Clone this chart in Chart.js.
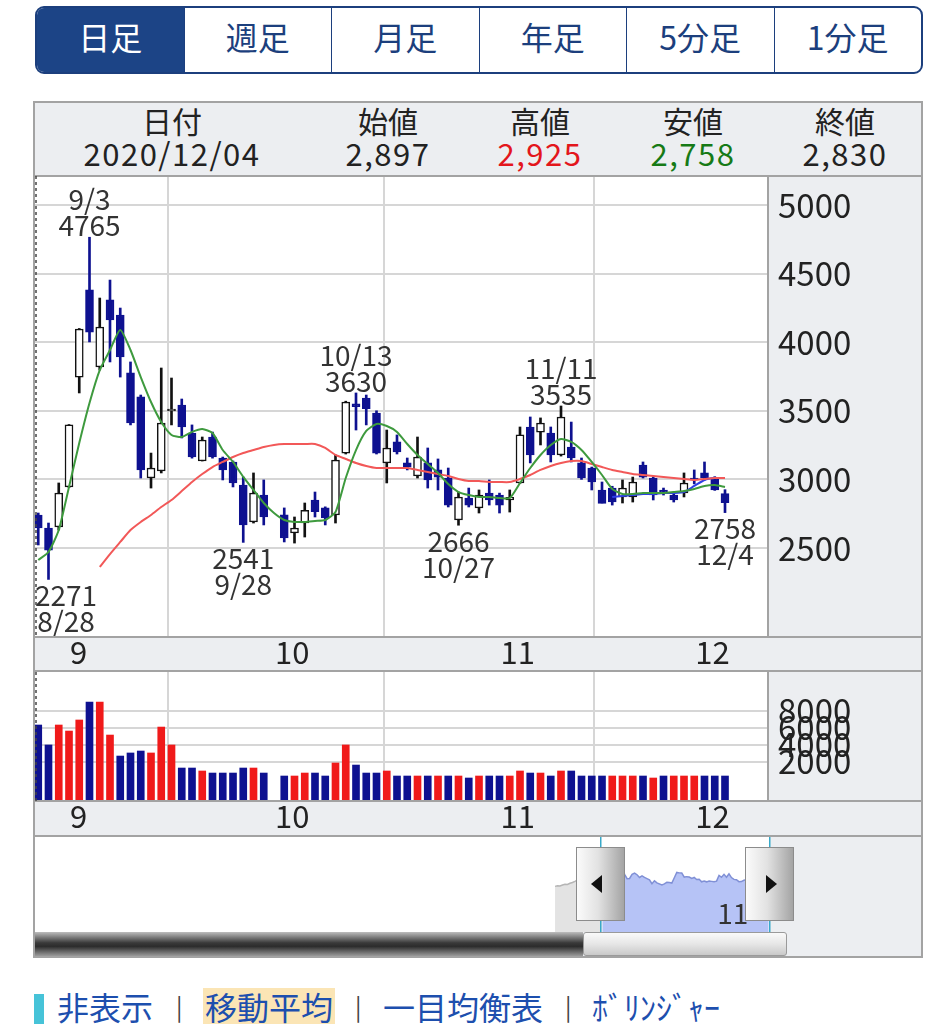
<!DOCTYPE html>
<html>
<head>
<meta charset="utf-8" />
<title>日足チャート</title>
<script src="https://cdn.jsdelivr.net/npm/chart.js"></script>
<style>
  body { margin: 0; background: #fff; font-family: "Noto Sans CJK JP", "Noto Sans", sans-serif; color: #222; }
  #page { position: relative; width: 946px; height: 1024px; overflow: hidden; }
  .abs { position: absolute; }
  #tabs { left: 35px; top: 6px; width: 888px; height: 68px; box-sizing: border-box; border: 2px solid #1c3f7d; border-radius: 9px; display: flex; overflow: hidden; }
  #tabs div { flex: 1; display: flex; align-items: center; justify-content: center; font-size: 32px; color: #1c3f7d; border-left: 1.5px solid #1c3f7d; padding-bottom: 8px; }
  #tabs div.on { background: #1c4486; color: #fff; border-left: none; }
  #box { left: 33px; top: 101px; width: 890px; height: 857px; box-sizing: border-box; border: 2px solid #a3a3a3; background: #eceef1; }
  .hc { position: absolute; width: 240px; text-align: center; font-size: 30px; line-height: 32px; }
  .hc.num { font-size: 31px; letter-spacing: 1.5px; }
  canvas { position: absolute; }
  .handle { position: absolute; top: 847px; width: 47px; height: 72px; border: 1.5px solid #8c8c8c; background: linear-gradient(to right, #fbfbfb, #e2e2e2 45%, #a4a4a4); }
  .tri { position: absolute; top: 27px; width: 0; height: 0; border-top: 9px solid transparent; border-bottom: 9px solid transparent; }
  #links { left: 0; top: 988px; height: 36px; font-size: 32px; line-height: 36px; color: #1d4fae; }
  #links span { position: absolute; top: 0; white-space: nowrap; }
  #links .sep { color: #444; font-size: 24px; }
</style>
</head>
<body>
<div id="page">
  <div id="tabs" class="abs">
    <div class="on">日足</div><div>週足</div><div>月足</div><div>年足</div><div>5分足</div><div>1分足</div>
  </div>

  <div id="box" class="abs"></div>
  <div class="hc" style="left:52px;top:104px">日付</div>
  <div class="hc num" style="left:52px;top:137px">2020/12/04</div>
  <div class="hc" style="left:268px;top:104px">始値</div>
  <div class="hc num" style="left:268px;top:137px">2,897</div>
  <div class="hc" style="left:420px;top:104px">高値</div>
  <div class="hc num" style="left:420px;top:137px;color:#e3161c">2,925</div>
  <div class="hc" style="left:573px;top:104px">安値</div>
  <div class="hc num" style="left:573px;top:137px;color:#167a16">2,758</div>
  <div class="hc" style="left:725px;top:104px">終値</div>
  <div class="hc num" style="left:725px;top:137px">2,830</div>

  <canvas id="price" width="886" height="495" style="left:35px;top:175px"></canvas>
  <canvas id="volume" width="886" height="165" style="left:35px;top:670px"></canvas>
  <canvas id="nav" width="886" height="97" style="left:35px;top:835px"></canvas>

  <div class="handle" id="hl"><div class="tri" style="left:14px;border-right:11px solid #111"></div></div>
  <div class="handle" id="hr"><div class="tri" style="left:20px;border-left:11px solid #111"></div></div>

  <div class="abs" style="left:35px;top:932px;width:548px;height:24px;background:linear-gradient(to bottom,#bdbdbd,#3a3a3a 45%,#2c2c2c 60%,#9a9a9a)"></div>
  <div class="abs" style="left:583px;top:932px;width:204px;height:24px;box-sizing:border-box;border:1.5px solid #9a9a9a;border-radius:3px;background:linear-gradient(to bottom,#fafafa,#e6e6e6 50%,#c9c9c9)"></div>

  <div class="abs" style="left:34px;top:994px;width:10px;height:30px;background:#46c3d8"></div>
  <div id="links" class="abs" style="width:946px">
    <span style="left:57px">非表示</span>
    <span class="sep" style="left:176px">|</span>
    <span style="left:203px;padding:0 2px;background:#fbe5b5">移動平均</span>
    <span class="sep" style="left:355px">|</span>
    <span style="left:383px">一目均衡表</span>
    <span class="sep" style="left:565px">|</span>
    <span style="left:592px">ﾎﾞﾘﾝｼﾞｬｰ</span>
  </div>
</div>

<script>
    const FONT = '"Noto Sans CJK JP", "Noto Sans", sans-serif';

    // trading days shown (10/1 had no trading)
    const dates = ['8/27','8/28','8/31',
        '9/1','9/2','9/3','9/4','9/7','9/8','9/9','9/10','9/11','9/14','9/15','9/16','9/17','9/18','9/23','9/24','9/25','9/28','9/29','9/30',
        '10/1','10/2','10/5','10/6','10/7','10/8','10/9','10/12','10/13','10/14','10/15','10/16','10/19','10/20','10/21','10/22','10/23','10/26','10/27','10/28','10/29','10/30',
        '11/2','11/4','11/5','11/6','11/9','11/10','11/11','11/12','11/13','11/16','11/17','11/18','11/19','11/20','11/24','11/25','11/26','11/27','11/30',
        '12/1','12/2','12/3','12/4'];

    const opens = [2740,2646,2653,2945,3746,4381,3819,4308,4198,3776,3601,3010,3061,3500,3542,3338,3134,3309,3156,3127,2959,2690,2886,
        null,2741,2609,2682,2850,2792,2741,3192,3550,3593,3484,3120,3273,3120,3025,3120,3069,3010,2704,2864,2792,2901,
        2886,2850,2974,3382,3345,3338,3178,3236,3120,3083,2923,2937,2872,2872,3105,3010,2923,2886,2901,3010,3047,3010,2897];
    const highs = [2755,2682,2974,3400,4100,4765,4322,4453,4249,3856,3615,3192,3812,3739,3586,3397,3309,3345,3163,3134,3017,3047,2996,
        null,2792,2726,2828,2908,2800,3178,3570,3630,3615,3500,3360,3324,3156,3309,3229,3149,3083,2908,2937,2923,2996,
        2900,2923,3382,3455,3448,3382,3535,3418,3156,3090,2981,2950,2996,3017,3127,3017,2937,2908,3047,3069,3127,3020,2925];
    const lows = [2522,2271,2631,2940,3630,4002,3797,3856,3746,3397,3010,2937,3047,3397,3302,3155,3134,3155,2996,2945,2541,2682,2668,
        null,2544,2536,2580,2726,2668,2682,3185,3360,3397,3185,2974,3185,3069,3010,2937,2923,2799,2666,2799,2755,2813,
        2755,2762,2970,3120,3251,3127,3170,3127,3000,2923,2828,2813,2828,2835,3010,2850,2886,2835,2872,2967,2996,2920,2758];
    const closes = [2646,2485,2901,3397,4096,4074,4111,4162,3892,3411,3069,3083,3411,3512,3382,3163,3287,3163,3069,2974,2668,2901,2726,
        null,2573,2646,2775,2765,2719,3141,3564,3530,3515,3192,3229,3200,3090,3163,2996,3017,2813,2872,2813,2886,2850,
        2813,2870,3324,3178,3411,3178,3455,3156,3010,2981,2825,2835,2937,2981,3017,2886,2901,2850,2974,2996,3010,2923,2830];

    // moving averages as drawn (green short, red mid, blue long)
    const maShort = [2413,2471,2631,2945,3265,3557,3797,3943,4089,3943,3746,3564,3418,3324,3309,3346,3367,3338,3214,3127,3018,2923,2828,
        2755,2704,2690,2690,2697,2704,2762,3010,3214,3353,3404,3389,3346,3258,3178,3112,3047,2966,2908,2886,2872,2872,
        2864,2864,2974,3083,3178,3251,3295,3273,3214,3127,3032,2930,2894,2894,2901,2901,2901,2908,2915,2930,2952,2959,2945];
    const maMid = [null,null,null,null,null,null,2362,2456,2544,2631,2690,2741,2799,2850,2915,2981,3039,3090,3127,3163,3192,3214,3236,
        3251,3258,3258,3258,3258,3229,3178,3149,3120,3098,3083,3083,3083,3083,3069,3054,3039,3025,3003,2988,2988,2981,
        2981,2981,3003,3032,3069,3098,3120,3134,3134,3112,3090,3069,3054,3039,3032,3025,3018,3010,3003,2996,3003,3010,3010];
    const maLong = [null,null,null,null,null,null,null,null,null,null,null,null,null,null,null,null,null,null,null,null,null,null,null,
        null,null,null,null,null,null,null,null,null,null,null,null,null,null,null,null,null,null,null,null,null,null,
        null,null,null,null,null,null,null,null,null,null,null,2872,2879,2886,2894,2894,2901,2901,2908,2952,2996,3010,3010];

    const volume = [6340,3990,6340,5630,6930,9040,9040,5160,2690,3050,3280,3050,6100,3990,1280,1280,930,690,690,690,1280,1280,690,
        null,340,340,690,690,340,1870,3990,1630,690,690,930,340,340,340,340,340,340,340,105,340,340,
        340,340,930,690,690,340,930,930,340,340,340,340,340,340,340,105,340,340,340,340,340,340,340];
    const volUp = [0,0,1,1,1,0,1,1,0,0,0,1,1,1,0,0,1,0,0,0,0,1,0,
        null,0,1,1,0,0,1,1,0,0,0,1,0,0,1,0,1,0,1,0,1,0,
        0,1,1,0,1,0,1,0,0,0,0,1,1,1,0,1,0,1,1,1,0,0,0];

    // closes before 8/27, only shown in the navigator
    const navEarly = [2450,2500,2480,2560,2620,2600,2700,2760,2850,2950,2900,2800,2750,2700,2650,2700,2750,2700,2720];

    const priceTicks = [2500, 3000, 3500, 4000, 4500, 5000];
    const volTicks = [2000, 4000, 6000, 8000];
    const highMarks = [5, 31, 51];
    const lowMarks = [1, 20, 41, 67];

    // first trading day of each month
    const monthIdx = [];
    dates.forEach((d, i) => { if (i === 0 || d.split('/')[0] !== dates[i - 1].split('/')[0]) monthIdx.push(i); });
    monthIdx.shift();
    const monthLabels = monthIdx.map(i => dates[i].split('/')[0]);

    const NAVY = '#0e1190';
    const RED = '#f01a1a';
    const GRID = '#d6d6d6';
    const PANEL = '#eceef1';
    const EDGE = '#a3a3a3';

    Chart.defaults.font.family = FONT;
    Chart.defaults.color = '#222';

    const idx = dates.map((d, i) => i).filter(i => opens[i] !== null);
    const bodies = idx.map(i => ({x: i, y: [opens[i], closes[i]], up: closes[i] >= opens[i]}));
    const wicks = idx.map(i => ({x: i, y: [lows[i], highs[i]], up: closes[i] >= opens[i]}));
    const pts = arr => arr.map((v, i) => ({x: i, y: v}));

    function monthAxis(height) {
        return {
            type: 'linear', min: -0.317, max: 71.195, offset: false, bounds: 'data',
            afterBuildTicks: s => { s.ticks = monthIdx.map(i => ({value: i - 0.3})); },
            afterFit: s => { s.height = height; s.paddingLeft = 0; s.paddingRight = 0; },
            grid: {color: GRID, lineWidth: 2, drawTicks: false},
            border: {display: false},
            ticks: {
                autoSkip: false, maxRotation: 0, align: 'start', labelOffset: 4, padding: 0,
                font: {size: 31, lineHeight: 1}, color: '#222',
                callback: (v, n) => monthLabels[n]
            }
        };
    }

    function valueAxis(min, max, list) {
        return {
            position: 'right', min: min, max: max, bounds: 'data',
            afterBuildTicks: s => { s.ticks = list.map(v => ({value: v})); },
            afterFit: s => { s.width = 153; s.paddingTop = 0; s.paddingBottom = 0; },
            grid: {color: GRID, lineWidth: 2, drawTicks: false},
            border: {display: false},
            ticks: {autoSkip: false, font: {size: 33}, padding: 10, color: '#222', callback: v => String(v)}
        };
    }

    const panelPlugin = {
        id: 'panel',
        beforeDraw(chart) {
            const {ctx, chartArea: a, width, height} = chart;
            ctx.save();
            ctx.fillStyle = PANEL;
            ctx.fillRect(0, 0, width, height);
            ctx.fillStyle = '#fff';
            ctx.fillRect(a.left, a.top, a.right - a.left, a.bottom - a.top);
            ctx.restore();
        },
        afterDraw(chart) {
            const {ctx, chartArea: a, width} = chart;
            ctx.save();
            ctx.fillStyle = EDGE;
            ctx.fillRect(0, 0, width, 2);
            ctx.fillRect(a.right - 1, a.top, 2, a.bottom - a.top);
            ctx.fillRect(0, a.bottom - 1, width, 2);
            ctx.strokeStyle = '#444';
            ctx.lineWidth = 1.5;
            ctx.setLineDash([3, 3]);
            ctx.beginPath();
            ctx.moveTo(a.left + 1, a.top);
            ctx.lineTo(a.left + 1, a.bottom);
            ctx.stroke();
            ctx.restore();
        }
    };

    const markPlugin = {
        id: 'marks',
        afterDatasetsDraw(chart) {
            const {ctx, chartArea: a, scales: {x, y}} = chart;
            ctx.save();
            ctx.font = '28px ' + FONT;
            ctx.fillStyle = '#333';
            ctx.textAlign = 'center';
            const lh = 26;
            const centre = (i, lines) => {
                const w = Math.max(...lines.map(t => ctx.measureText(t).width));
                return Math.min(Math.max(x.getPixelForValue(i), a.left + w / 2), a.right - w / 2);
            };
            highMarks.forEach(i => {
                const py = y.getPixelForValue(highs[i]);
                const cx = centre(i, [dates[i], String(highs[i])]);
                ctx.textBaseline = 'alphabetic';
                ctx.fillText(String(highs[i]), cx, py - 1);
                ctx.fillText(dates[i], cx, py - 1 - lh);
            });
            lowMarks.forEach(i => {
                const py = y.getPixelForValue(lows[i]);
                const cx = centre(i, [dates[i], String(lows[i])]);
                ctx.textBaseline = 'top';
                ctx.fillText(String(lows[i]), cx, py + 2);
                ctx.fillText(dates[i], cx, py + 2 + lh);
            });
            ctx.restore();
        }
    };

    new Chart(document.getElementById('price'), {
        type: 'bar',
        data: {
            datasets: [{
                type: 'line', data: pts(maShort), borderColor: '#3e9a3e', borderWidth: 2,
                pointRadius: 0, tension: 0.2, order: 0
            }, {
                type: 'line', data: pts(maMid), borderColor: '#f25858', borderWidth: 2,
                pointRadius: 0, tension: 0.2, order: 0
            }, {
                type: 'line', data: pts(maLong), borderColor: '#2f3fe6', borderWidth: 2,
                pointRadius: 0, tension: 0.2, order: 0
            }, {
                data: bodies, grouped: false, barThickness: 8, borderSkipped: false, borderWidth: 1.5,
                backgroundColor: c => c.raw && c.raw.up ? '#fff' : NAVY,
                borderColor: c => c.raw && c.raw.up ? '#111' : NAVY,
                order: 1
            }, {
                data: wicks, grouped: false, barThickness: 2, borderWidth: 0,
                backgroundColor: c => c.raw && c.raw.up ? '#111' : NAVY,
                order: 2
            }]
        },
        options: {
            responsive: false,
            animation: false,
            layout: {padding: {top: 1}},
            plugins: {legend: {display: false}, tooltip: {enabled: false}},
            scales: {
                x: monthAxis(33),
                y: valueAxis(1851.3, 5211.4, priceTicks)
            }
        },
        plugins: [panelPlugin, markPlugin]
    });

    const volPts = idx.map(i => ({x: i, y: volume[i], up: volUp[i] === 1}));
    new Chart(document.getElementById('volume'), {
        type: 'bar',
        data: {
            datasets: [{
                data: volPts, barThickness: 7, base: -2600, borderWidth: 0,
                backgroundColor: c => c.raw && c.raw.up ? RED : NAVY
            }]
        },
        options: {
            responsive: false,
            animation: false,
            layout: {padding: {top: 2}},
            plugins: {legend: {display: false}, tooltip: {enabled: false}},
            scales: {
                x: monthAxis(34),
                y: valueAxis(-2600, 12576, volTicks)
            }
        },
        plugins: [panelPlugin]
    });

    // navigator: whole history, visible window highlighted
    const novIdx = monthIdx[2];
    const navPlugin = {
        id: 'navBg',
        beforeDraw(chart) {
            const {ctx, width, height, scales: {x}} = chart;
            ctx.save();
            ctx.fillStyle = '#fff';
            ctx.fillRect(0, 0, width, height);
            ctx.fillStyle = PANEL;
            const r = x.getPixelForValue(dates.length - 0.5);
            ctx.fillRect(r, 0, width - r, height);
            ctx.restore();
        },
        afterDraw(chart) {
            const {ctx, width, height, scales: {x}} = chart;
            ctx.save();
            ctx.fillStyle = '#38a9c9';
            [-0.5, dates.length - 0.5].forEach(v => ctx.fillRect(Math.round(x.getPixelForValue(v)) - 1, 0, 1.5, height));
            ctx.fillStyle = '#333';
            ctx.font = '28px ' + FONT;
            ctx.textBaseline = 'alphabetic';
            ctx.fillText(monthLabels[2], x.getPixelForValue(novIdx - 0.3) + 4, height - 8);
            ctx.fillStyle = EDGE;
            ctx.fillRect(0, 0, width, 2);
            ctx.restore();
        }
    };

    const navEarlyPts = navEarly.map((v, k) => ({x: k - navEarly.length, y: v})).concat([{x: 0, y: closes[0]}]);
    const navPts = idx.map(i => ({x: i, y: closes[i]}));
    const navChart = new Chart(document.getElementById('nav'), {
        type: 'line',
        data: {
            datasets: [{
                data: navEarlyPts, borderColor: '#b5b5b5', borderWidth: 1.5, pointRadius: 0,
                fill: 'start', backgroundColor: '#e3e3e3'
            }, {
                data: navPts, borderColor: '#8090d6', borderWidth: 1.5, pointRadius: 0,
                fill: 'start', backgroundColor: '#b6c3f6'
            }]
        },
        options: {
            responsive: false,
            animation: false,
            layout: {padding: 0},
            plugins: {legend: {display: false}, tooltip: {enabled: false}},
            scales: {
                x: {
                    type: 'linear', min: -228.27, max: 128.27, bounds: 'data', z: 1,
                    afterBuildTicks: s => { s.ticks = [{value: novIdx - 0.3}]; },
                    afterFit: s => { s.height = 0; s.paddingLeft = 0; s.paddingRight = 0; },
                    grid: {color: '#fff', lineWidth: 3, drawTicks: false},
                    border: {display: false},
                    ticks: {display: false}
                },
                y: {display: false, min: -1200, max: 6560}
            }
        },
        plugins: [navPlugin]
    });

    // place the window handles on the navigator scale
    const nx = navChart.scales.x;
    const navLeft = 35;
    document.getElementById('hl').style.left = (navLeft + nx.getPixelForValue(-0.5) - 25) + 'px';
    document.getElementById('hr').style.left = (navLeft + nx.getPixelForValue(dates.length - 0.5) - 25) + 'px';
</script>
</body>
</html>
